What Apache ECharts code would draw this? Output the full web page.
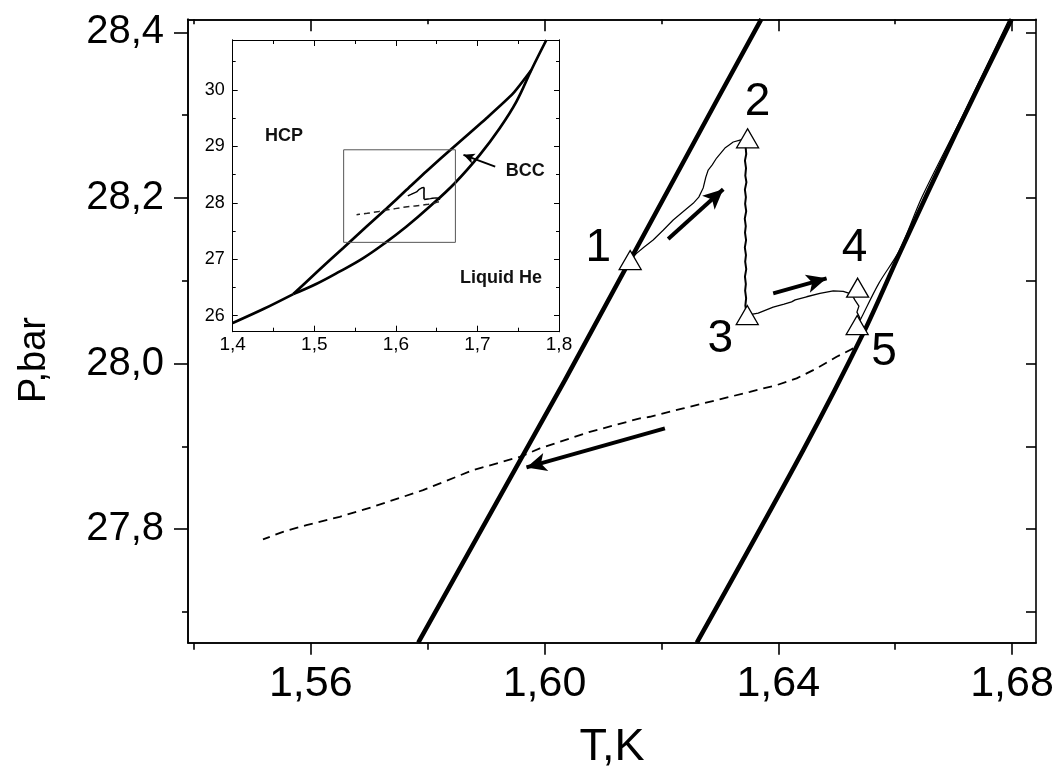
<!DOCTYPE html>
<html>
<head>
<meta charset="utf-8">
<script src="https://cdn.jsdelivr.net/npm/echarts@6/dist/echarts.min.js"></script>
<style>
html,body{margin:0;padding:0;background:#fff;}
#chart{width:1064px;height:769px;}
</style>
</head>
<body>
<div id="chart"></div>
<script>
// ---------- main panel: axes ----------
const xRange = [1.539, 1.6841];
const yRange = [27.663, 28.4157];
const xMajorTicks = [1.56, 1.60, 1.64, 1.68];
const xMinorTicks = [1.54, 1.58, 1.62, 1.66];
const yMajorTicks = [27.8, 28.0, 28.2, 28.4];
const yMinorTicks = [27.7, 27.9, 28.1, 28.3];

// ---------- main panel: phase boundaries (T, K ; P, bar) ----------
const hcpBccBoundary = [[1.5784, 27.663], [1.6035, 27.980], [1.6295, 28.318], [1.6371, 28.416]];
const bccLiquidBoundary = [[1.62607, 27.663], [1.64427, 27.8955], [1.65454, 28.0365], [1.66100, 28.1367], [1.67024, 28.2761], [1.67994, 28.4157]];

// ---------- main panel: measured path ----------
const path12 = [[1.61466, 28.1250], [1.61575, 28.1331], [1.61700, 28.1405], [1.61859, 28.1492], [1.62030, 28.1610], [1.62202, 28.1734], [1.62380, 28.1840], [1.62544, 28.1935], [1.62640, 28.2010], [1.62715, 28.2120], [1.62760, 28.2250], [1.62801, 28.2337], [1.62870, 28.2400], [1.62945, 28.2482], [1.63087, 28.2602], [1.63160, 28.2640], [1.63229, 28.2675], [1.63344, 28.2699], [1.63475, 28.2720]];
const path23 = [[1.63460, 28.270], [1.63441, 28.262], [1.63452, 28.253], [1.63430, 28.245], [1.63448, 28.236], [1.63436, 28.227], [1.63455, 28.219], [1.63429, 28.210], [1.63446, 28.201], [1.63433, 28.193], [1.63451, 28.184], [1.63427, 28.175], [1.63444, 28.166], [1.63431, 28.158], [1.63449, 28.149], [1.63428, 28.140], [1.63447, 28.131], [1.63434, 28.123], [1.63452, 28.114], [1.63430, 28.105], [1.63445, 28.096], [1.63433, 28.088], [1.63450, 28.079], [1.63437, 28.070], [1.63455, 28.062]];
const path34 = [[1.63469, 28.0586], [1.63657, 28.0610], [1.63913, 28.0682], [1.64100, 28.0718], [1.64228, 28.0746], [1.64290, 28.0770], [1.64485, 28.0807], [1.64713, 28.0848], [1.64941, 28.0879], [1.65112, 28.0873], [1.65255, 28.0839]];
const path45 = [[1.65255, 28.0839], [1.65312, 28.0766], [1.65380, 28.0694], [1.65346, 28.0621], [1.65397, 28.0549], [1.65363, 28.0465]];
const pathAlongBoundary = [[1.65363, 28.0465], [1.65430, 28.0565], [1.65723, 28.0972], [1.66074, 28.1367], [1.66459, 28.2011], [1.67161, 28.3001], [1.67950, 28.4157]];
const coolingPath = [[1.65283, 28.0184], [1.64999, 28.0082], [1.64656, 27.9942], [1.64314, 27.9821], [1.63972, 27.9740], [1.63515, 27.9659], [1.62945, 27.9559], [1.62373, 27.9459], [1.61803, 27.9358], [1.61632, 27.9338], [1.60776, 27.9176], [1.59920, 27.8976], [1.59578, 27.8874], [1.58778, 27.8714], [1.57922, 27.8472], [1.57066, 27.8271], [1.56496, 27.8150], [1.55926, 27.8050], [1.55526, 27.7969], [1.55183, 27.7877]];

// numbered states along the path
const stateNames = ['1', '2', '3', '4', '5'];
const stateT = [1.61466, 1.63475, 1.63469, 1.65358, 1.65350];
const stateP = [28.1250, 28.2720, 28.0586, 28.0916, 28.0465];

// direction arrows: [from, to]
const arrows = [
  [[1.62116, 28.1504], [1.63058, 28.2104]],
  [[1.63913, 28.0848], [1.64827, 28.1029]],
  [[1.62060, 27.9217], [1.59692, 27.8746]]
];

// ---------- inset: full phase diagram ----------
const insetXRange = [1.4, 1.8];
const insetYRange = [25.717, 30.885];
const insetXMajor = [1.4, 1.5, 1.6, 1.7, 1.8];
const insetXMinor = [1.45, 1.55, 1.65, 1.75];
const insetYMajor = [26, 27, 28, 29, 30];
const insetYMinor = [26.5, 27.5, 28.5, 29.5, 30.5];
const hcpLiquidCurve = [[1.4, 25.87], [1.4376, 26.118], [1.4743, 26.383]];
const hcpBccCurve = [[1.4743, 26.383], [1.5029, 26.77], [1.5355, 27.20], [1.5641, 27.58], [1.5886, 27.90], [1.6131, 28.23], [1.6376, 28.56], [1.6702, 28.98], [1.7110, 29.50], [1.7437, 29.94], [1.7661, 30.354]];
const bccLiquidCurve = [[1.4743, 26.383], [1.5029, 26.566], [1.5314, 26.785], [1.5600, 27.021], [1.5865, 27.286], [1.6131, 27.581], [1.6416, 27.935], [1.6722, 28.348], [1.7029, 28.850], [1.7273, 29.322], [1.7478, 29.794], [1.7661, 30.354], [1.7845, 30.885]];
const zoomFrame = [[1.536, 27.30], [1.673, 27.30], [1.673, 28.94], [1.536, 28.94], [1.536, 27.30]];
const bccPointer = [[1.7218, 28.642], [1.6829, 28.850]];
const phaseNames = ['HCP', 'BCC', 'Liquid He'];
const phaseT = [1.463, 1.7587, 1.729];
const phaseP = [29.19, 28.57, 26.67];

// ---------- layout / style ----------
const FONT = 'Liberation Sans, Arial, Helvetica, sans-serif';
const labelOffsets = [[-32, -12], [10, -36], [-27, 24], [-3, -39], [27, 27]];

function valueAxis(gridIndex, position, range, ticks, tickLen, inside, lineW, label) {
  const ax = {
    type: 'value', gridIndex, position, min: range[0], max: range[1],
    splitLine: { show: false },
    axisLine: { show: true, onZero: false, lineStyle: { color: '#000', width: lineW } },
    axisTick: { show: true, inside, length: tickLen, customValues: ticks, lineStyle: { color: '#000', width: lineW } },
    axisLabel: { show: false }
  };
  if (label) {
    ax.axisLabel = Object.assign({ show: true, customValues: ticks, color: '#000', fontFamily: FONT }, label);
  }
  return ax;
}

const fmt2 = v => v.toFixed(2).replace('.', ',');
const fmt1 = v => v.toFixed(1).replace('.', ',');

const xAxes = [
  Object.assign(valueAxis(0, 'bottom', xRange, xMajorTicks, 12, false, 1.6, { fontSize: 43, margin: 20, formatter: fmt2 }), {
    name: 'T,K', nameLocation: 'middle', nameGap: 82,
    nameTextStyle: { fontSize: 45, color: '#000', fontFamily: FONT }
  }),
  valueAxis(0, 'bottom', xRange, xMinorTicks, 7, false, 1.6),
  valueAxis(0, 'top', xRange, xMajorTicks, 12, true, 1.6),
  valueAxis(0, 'top', xRange, xMinorTicks, 5, true, 1.6),
  valueAxis(1, 'bottom', insetXRange, insetXMajor, 6, true, 1, { fontSize: 19, margin: 4, formatter: fmt1 }),
  valueAxis(1, 'bottom', insetXRange, insetXMinor, 4, true, 1),
  valueAxis(1, 'top', insetXRange, insetXMajor, 6, true, 1),
  valueAxis(1, 'top', insetXRange, insetXMinor, 4, true, 1)
];

const yAxes = [
  Object.assign(valueAxis(0, 'left', yRange, yMajorTicks, 14, false, 1.6, { fontSize: 40, margin: 24, formatter: fmt1 }), {
    name: 'P,bar', nameLocation: 'middle', nameGap: 134, nameRotate: 90,
    nameTextStyle: { fontSize: 38, color: '#000', fontFamily: FONT, padding: [0, 58, 0, 0] }
  }),
  valueAxis(0, 'left', yRange, yMinorTicks, 6, false, 1.6),
  valueAxis(0, 'right', yRange, yMajorTicks.concat(yMinorTicks), 10, true, 1.6),
  valueAxis(1, 'left', insetYRange, insetYMajor, 5, true, 1, { fontSize: 18, margin: 8, formatter: v => String(Math.round(v)) }),
  valueAxis(1, 'left', insetYRange, insetYMinor, 3, true, 1),
  valueAxis(1, 'right', insetYRange, insetYMajor, 5, true, 1),
  valueAxis(1, 'right', insetYRange, insetYMinor, 3, true, 1)
];

function lineSeries(data, xi, yi, width, extra) {
  return Object.assign({
    type: 'line', data, xAxisIndex: xi, yAxisIndex: yi,
    symbol: 'none', showSymbol: false, silent: true, animation: false,
    lineStyle: { color: '#000', width }, z: 3
  }, extra || {});
}

function arrowMarks(list, width, size) {
  return {
    silent: true, animation: false,
    symbol: ['none', 'arrow'], symbolSize: size,
    label: { show: false },
    lineStyle: { color: '#000', width, type: 'solid', opacity: 1 },
    itemStyle: { color: '#000', opacity: 1 },
    emphasis: { disabled: true },
    data: list.map(a => [{ coord: a[0] }, { coord: a[1] }])
  };
}

const series = [
  // main panel
  lineSeries(hcpBccBoundary, 0, 0, 4.5),
  lineSeries(bccLiquidBoundary, 0, 0, 4.5, { smooth: 0.3 }),
  lineSeries(pathAlongBoundary, 0, 0, 1.2, { smooth: 0.3 }),
  lineSeries(path12, 0, 0, 1.2),
  lineSeries(path23, 0, 0, 2),
  lineSeries(path34, 0, 0, 1.3),
  lineSeries(path45, 0, 0, 1.3),
  lineSeries(coolingPath, 0, 0, 1.8, { lineStyle: { color: '#000', width: 1.8, type: [9, 6] } }),
  lineSeries([], 0, 0, 1, { markLine: arrowMarks(arrows, 4, [14, 20]) }),
  {
    type: 'scatter', xAxisIndex: 0, yAxisIndex: 0, silent: true, animation: false, z: 6,
    symbol: 'triangle', symbolSize: [22, 19],
    itemStyle: { color: '#fff', borderColor: '#000', borderWidth: 1.3, opacity: 1 },
    data: stateNames.map((n, i) => ({
      name: n, value: [stateT[i], stateP[i]],
      label: { offset: labelOffsets[i] }
    })),
    label: { show: true, position: 'inside', formatter: p => p.name, fontSize: 46, color: '#000', opacity: 1, fontFamily: FONT }
  },
  // inset panel
  lineSeries(hcpLiquidCurve, 4, 3, 2.7, { smooth: 0.3 }),
  lineSeries(hcpBccCurve, 4, 3, 2.7, { smooth: 0.2 }),
  lineSeries(bccLiquidCurve, 4, 3, 2.7, { smooth: 0.4 }),
  lineSeries(zoomFrame, 4, 3, 1, { lineStyle: { color: '#555', width: 1 } }),
  lineSeries(path12, 4, 3, 1.4),
  lineSeries(path23, 4, 3, 1.6),
  lineSeries(path34, 4, 3, 1.4),
  lineSeries(path45, 4, 3, 1.4),
  lineSeries(coolingPath, 4, 3, 1.5, { lineStyle: { color: '#222', width: 1.5, type: [6, 4] } }),
  lineSeries([], 4, 3, 1, { markLine: arrowMarks([bccPointer], 2, [8, 11]) }),
  {
    type: 'scatter', xAxisIndex: 4, yAxisIndex: 3, silent: true, animation: false, z: 6,
    symbolSize: 0, itemStyle: { opacity: 1 },
    data: phaseNames.map((n, i) => ({ name: n, value: [phaseT[i], phaseP[i]] })),
    label: { show: true, position: 'inside', formatter: p => p.name, fontSize: 18, fontWeight: 'bold', color: '#111', opacity: 1, fontFamily: FONT }
  }
];

const chart = echarts.init(document.getElementById('chart'), null, { renderer: 'canvas' });
chart.setOption({
  backgroundColor: '#fff',
  animation: false,
  grid: [
    { left: 188, top: 19.3, width: 848, height: 623.4, containLabel: false, outerBoundsMode: 'none', show: false },
    { left: 232.7, top: 40, width: 326.3, height: 291.7, containLabel: false, outerBoundsMode: 'none', show: true, backgroundColor: '#fff', borderWidth: 0 }
  ],
  xAxis: xAxes,
  yAxis: yAxes,
  series
});
</script>
</body>
</html>
